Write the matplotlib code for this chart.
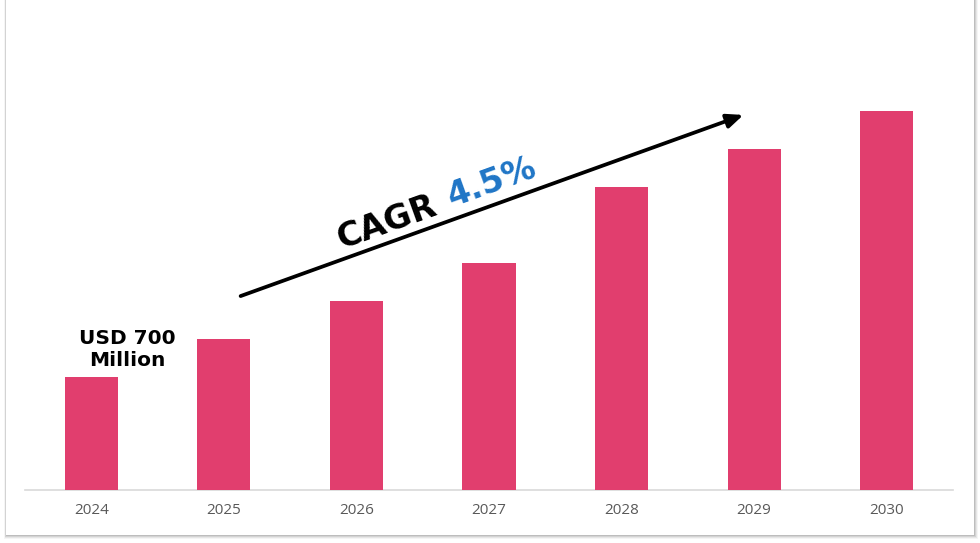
import matplotlib
matplotlib.use("Agg")
import matplotlib.pyplot as plt
from matplotlib.patches import Rectangle, FancyArrowPatch

# Données (USD millions)
years = ["2024", "2025", "2026", "2027", "2028", "2029", "2030"]
values = [700, 935, 1170, 1405, 1875, 2110, 2345]
start_label = "USD 700\nMillion"
cagr_label = "CAGR"
cagr_value = "4.5%"

W, H = 980, 543
fig = plt.figure(figsize=(W / 100, H / 100), dpi=100)
fig.patch.set_facecolor("white")


def px(x, y):
    """Pixels (origine en haut à gauche) -> fraction de figure."""
    return x / W, 1 - y / H


# Carte blanche avec ombre douce (gauche, droite, bas)
for i, a in enumerate([0.04, 0.06, 0.08, 0.10]):
    off = 4 - i
    fig.patches.append(Rectangle(px(6 - off * 0.5, 535 + off), (968 + off * 1.5) / W,
                                 (540 + off) / H, transform=fig.transFigure,
                                 facecolor="black", alpha=a, edgecolor="none", zorder=0))
fig.patches.append(Rectangle(px(6, 535), 968 / W, 540 / H, transform=fig.transFigure,
                             facecolor="white", edgecolor="none", zorder=1))

# Axes : ligne de base à y=490 px, de x=25 à x=953 px
base_y = 490
top_y = 20
ax = fig.add_axes([25 / W, (H - base_y) / H, 928 / W, (base_y - top_y) / H])
ax.set_facecolor("none")
ax.set_zorder(2)
ymax = (base_y - top_y) * 700 / 113
ax.bar(range(len(years)), values, width=0.4, color="#E13E6E", zorder=3)
ax.set_xlim(-0.5, len(years) - 0.5)
ax.set_ylim(0, ymax)
ax.set_xticks(range(len(years)))
ax.set_xticklabels(years, fontsize=11, color="#595959", family="Open Sans")
ax.tick_params(axis="x", length=0, pad=9)
ax.set_yticks([])
for s in ["top", "right", "left"]:
    ax.spines[s].set_visible(False)
ax.spines["bottom"].set_color("#D9D9D9")
ax.spines["bottom"].set_linewidth(1.2)

# Libellé de départ
ax.text(0.27, values[0] + 45, start_label, ha="center", va="bottom",
        fontsize=14.5, fontweight="bold", family="DejaVu Sans", linespacing=1.2,
        zorder=4)

# Flèche CAGR
fig.add_artist(FancyArrowPatch(
    px(238, 297), px(746, 114), transform=fig.transFigure,
    arrowstyle="-|>,head_length=7,head_width=3", mutation_scale=1.4,
    color="black", lw=2.7, zorder=5))

angle = 19.8
fig.text(*px(341, 249), cagr_label, rotation=angle, rotation_mode="anchor",
         ha="left", va="baseline", fontsize=24, fontweight="bold",
         family="DejaVu Sans", color="black", zorder=6)
fig.text(*px(452, 207), cagr_value, rotation=angle, rotation_mode="anchor",
         ha="left", va="baseline", fontsize=24, fontweight="bold",
         family="DejaVu Sans", color="#1F75C6", zorder=6)

fig.savefig("out.png", dpi=100, facecolor="white")
